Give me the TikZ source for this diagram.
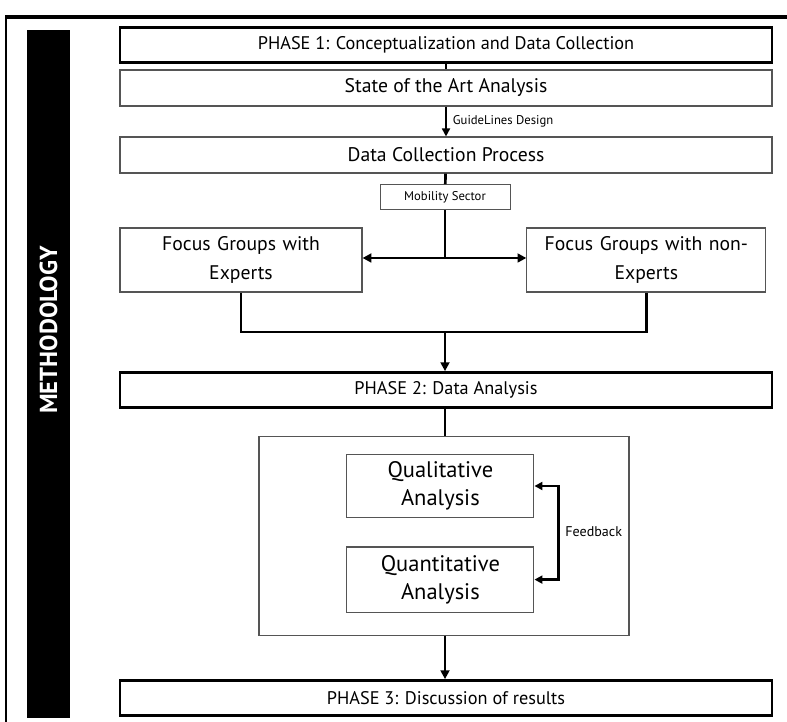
\documentclass[tikz,border=0pt]{standalone}
\usepackage{fontspec}
\setmainfont{PT Sans}
\usepackage{tikz}
\usetikzlibrary{arrows.meta, positioning, calc}
\definecolor{boxgray}{HTML}{555555}
\tikzset{
	phasebox/.style={rectangle, draw=black, line width=1.8pt, minimum width=16.3cm, minimum height=0.88cm, align=center, font=\fontsize{13}{15}\selectfont},
	stepbox/.style={rectangle, draw=boxgray, line width=0.8pt, minimum width=16.3cm, minimum height=0.9cm, align=center, font=\fontsize{14}{16}\selectfont},
	groupbox/.style={rectangle, draw=boxgray, line width=0.8pt, minimum height=1.6cm, text width=5.4cm, align=center, font=\fontsize{14}{20}\selectfont},
	analysisbox/.style={rectangle, draw=boxgray, line width=0.8pt, minimum width=4.675cm, minimum height=1.58cm, text width=4.2cm, align=center, font=\fontsize{16}{20}\selectfont},
	small/.style={font=\fontsize{9}{11}\selectfont},
	link/.style={line width=1.9pt},
	arrow/.style={line width=1.9pt,-{Triangle[length=2.2mm, width=2.2mm]}}
}
\begin{document}
\begin{tikzpicture}
		\useasboundingbox (0,0) rectangle (19.675,-18.05);
		% Marco
		\draw [line width=2.5pt] (0.13,-0.43) -- (19.675,-0.43);
		\draw [line width=0.8pt] (0.15,-0.43) -- (0.15,-18.05);
		\fill [black] (0.675,-0.75) rectangle (1.75,-17.95);
		\node [rotate=90, text=white, font=\fontsize{17.5}{19}\selectfont\bfseries] (method) at (1.2125,-8.25) {METHODOLOGY};
		
		% Fase 1
		\node [phasebox] (phaseA) at (11.15,-1.125) {PHASE 1: Conceptualization and Data Collection};
		\node [stepbox] (art) at (11.15,-2.2) {State of the Art Analysis};
		\node [stepbox] (collect) at (11.15,-3.875) {Data Collection Process};
		\node [rectangle, draw=boxgray, line width=0.6pt, minimum width=3.25cm, minimum height=0.62cm, small] (mobility) at (11.125,-4.925) {Mobility Sector};
		\node [groupbox, minimum width=6.05cm] (experts) at (6.025,-6.5) {Focus Groups with\\Experts};
		\node [groupbox, minimum width=5.975cm] (nonexperts) at (16.16,-6.5) {Focus Groups with non-\\Experts};
		\coordinate (split) at (11.125,-6.45);
		\coordinate (merge) at (11.125,-8.3);
		
		\draw [link] (phaseA) -- (art);
		\draw [line width=1.2pt,-{Triangle[length=2mm, width=2mm]}] (art) -- node [right, small, xshift=1pt] {GuideLines Design} (collect);
		\draw [link] (collect) -- (mobility);
		\draw [link] (mobility) -- (split);
		\draw [line width=1.9pt,{Triangle[length=2.2mm, width=2.2mm]}-{Triangle[length=2.2mm, width=2.2mm]}] (experts.east |- split) -- (nonexperts.west |- split);
		\draw [link] (experts.south) |- (merge) -| (nonexperts.south);
		
		% Fase 2
		\node [phasebox] (phaseB) at (11.15,-9.75) {PHASE 2: Data Analysis};
		\draw [arrow] (merge) -- (merge |- phaseB.north);
		\node [rectangle, draw=boxgray, line width=0.8pt, minimum width=9.25cm, minimum height=4.975cm] (analysis) at (11.1,-13.39) {};
		\node [analysisbox] (quali) at (11.01,-12.15) {Qualitative\\Analysis};
		\node [analysisbox, minimum height=1.63cm] (quanti) at (11.01,-14.49) {Quantitative\\Analysis};
		\draw [link] (phaseB.south -| merge) -- (analysis.north -| merge);
		\draw [line width=1.9pt,{Triangle[length=2mm, width=2mm]}-{Triangle[length=2mm, width=2mm]}] (quali.east) -- ++(0.6,0) coordinate (fbtop) |- (quanti.east);
		\node [font=\fontsize{10}{12}\selectfont, anchor=west] (feedback) at ($(fbtop)+(0.05,-1.15)$) {Feedback};
		
		% Fase 3
		\node [phasebox] (phaseC) at (11.15,-17.45) {PHASE 3: Discussion of results};
		\draw [arrow] (analysis.south -| merge) -- (phaseC.north -| merge);
	\end{tikzpicture}
\end{document}
